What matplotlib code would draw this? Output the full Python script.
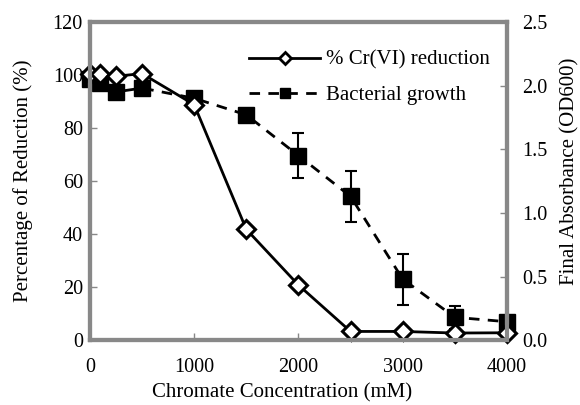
import matplotlib
matplotlib.use("Agg")
import matplotlib.pyplot as plt
from matplotlib.lines import Line2D

plt.rcParams['font.family'] = ['Liberation Serif', 'DejaVu Serif']

conc = [0, 100, 250, 500, 1000, 1500, 2000, 2500, 3000, 3500, 4000]
reduction = [100.5, 100.5, 99.5, 100.5, 88.8, 41.8, 20.8, 3.3, 3.3, 2.7, 2.8]
growth = [2.05, 2.02, 1.95, 1.98, 1.90, 1.77, 1.45, 1.13, 0.48, 0.18, 0.145]
growth_err = [0, 0, 0, 0, 0, 0, 0.18, 0.20, 0.20, 0.09, 0]

x_ticks = [0, 1000, 2000, 3000, 4000]
y_ticks = [0, 20, 40, 60, 80, 100, 120]
y2_ticks = [0.0, 0.5, 1.0, 1.5, 2.0, 2.5]

DASH = (0, (3.8, 3.0))

fig = plt.figure(figsize=(5.8, 4.05), dpi=100)
ax = fig.add_axes([0.155, 0.160, 0.719, 0.786])
ax2 = ax.twinx()
ax.set_zorder(ax2.get_zorder() + 1)
ax.patch.set_visible(False)

# bacterial growth on right axis
ax2.errorbar(conc, growth, yerr=growth_err, color='black', linestyle=DASH,
             linewidth=2, marker='s', markersize=11.5, markerfacecolor='black',
             capsize=4, elinewidth=1.5, capthick=1.5, clip_on=False,
             label='Bacterial growth')

# reduction on left axis
ax.plot(conc, reduction, color='black', linewidth=2, marker='D', markersize=9.5,
        markerfacecolor='white', markeredgecolor='black', markeredgewidth=2.2,
        clip_on=False, label='% Cr(VI) reduction')

ax.set_xlim(0, 4000)
ax.set_ylim(0, 120)
ax2.set_ylim(0, 2.5)
ax.set_xticks(x_ticks)
ax.set_yticks(y_ticks)
ax2.set_yticks(y2_ticks)
ax2.set_yticklabels([f"{v:.1f}" for v in y2_ticks])

for a in (ax, ax2):
    for s in a.spines.values():
        s.set_color('#888888')
        s.set_linewidth(3)
    a.tick_params(direction='in', length=5, width=1, color='#888888',
                  labelsize=14.5)
ax.tick_params(axis='x', pad=13)
ax.tick_params(axis='y', pad=5)
ax2.tick_params(axis='y', pad=11)

ax.set_xlabel('Chromate Concentration (mM)', fontsize=15)
ax.set_ylabel('Percentage of Reduction (%)', fontsize=15)
ax2.set_ylabel('Final Absorbance (OD600)', fontsize=15)
ax.xaxis.set_label_coords(0.46, -0.135)
ax.yaxis.set_label_coords(-0.137, 0.5)
ax2.yaxis.set_label_coords(1.127, 0.53)

hl1 = Line2D([], [], color='black', linewidth=2, marker='D', markersize=6.5,
             markerfacecolor='white', markeredgewidth=2)
hl2 = Line2D([], [], color='black', linewidth=2, linestyle=DASH,
             marker='s', markersize=7.5)
ax.legend([hl1, hl2], ['% Cr(VI) reduction', 'Bacterial growth'],
          loc='upper right', frameon=False, fontsize=15, handlelength=3.4,
          bbox_to_anchor=(0.99, 0.95), labelspacing=0.75, handletextpad=0.3,
          borderaxespad=0.2)

fig.savefig('out.png', dpi=100)
